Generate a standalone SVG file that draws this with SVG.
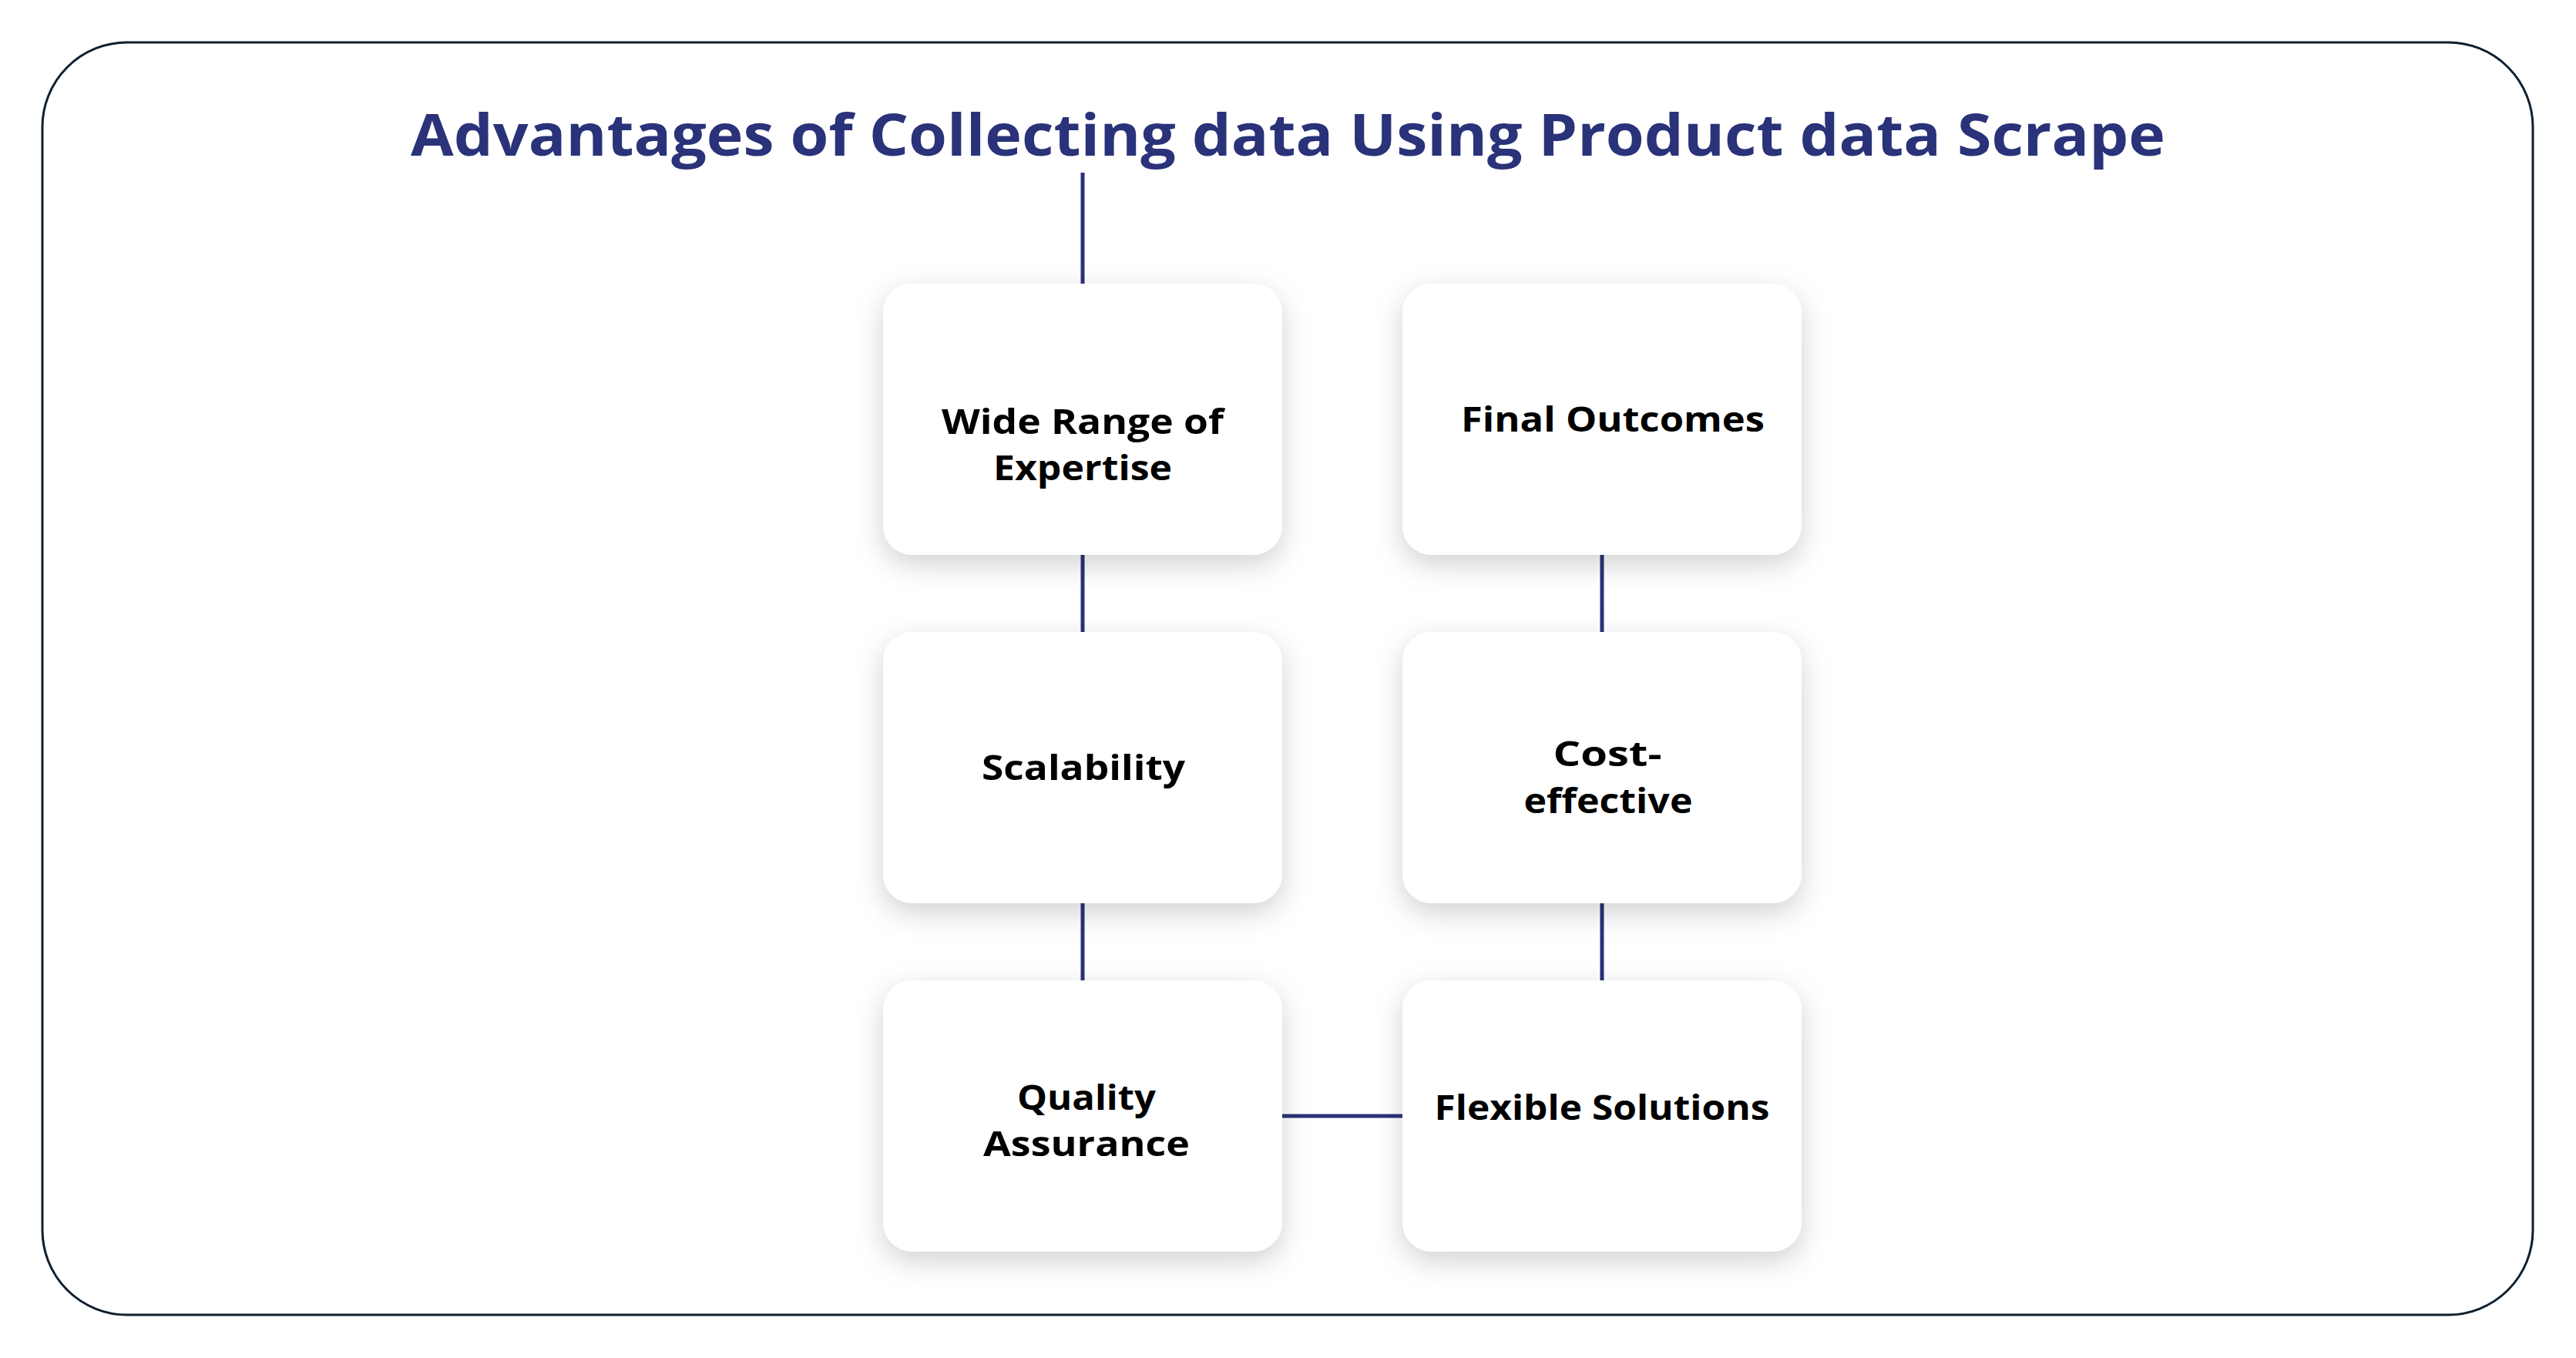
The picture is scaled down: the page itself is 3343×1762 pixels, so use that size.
<svg xmlns="http://www.w3.org/2000/svg" width="3343" height="1762" viewBox="0 0 3343 1762">
<style>
.frame{fill:#ffffff;stroke:#0f1f2e;stroke-width:3}
.title{font-family:"Open Sans","Noto Sans",sans-serif;font-weight:700;font-size:76px;fill:#2a3279}
.box{fill:#ffffff}
.lbl{font-family:"Open Sans","Noto Sans",sans-serif;font-weight:700;font-size:45px;fill:#000000;text-anchor:middle}
.conn{stroke:#2a3279;stroke-width:5;fill:none}
</style>
<defs>
<filter id="sh" x="-20%" y="-20%" width="140%" height="150%">
<feDropShadow dx="0" dy="12" stdDeviation="18" flood-color="#000" flood-opacity="0.18"/>
</filter>
</defs>
<rect width="3343" height="1762" fill="#ffffff"/>
<rect class="frame" x="55" y="55" width="3232" height="1651" rx="110" ry="110"/>
<text id="title" class="title" x="533" y="202" textLength="2277" lengthAdjust="spacingAndGlyphs">Advantages of Collecting data Using Product data Scrape</text>
<g id="connectors">
<line class="conn" x1="1405" y1="224" x2="1405" y2="368"/>
<line class="conn" x1="1405" y1="720" x2="1405" y2="820"/>
<line class="conn" x1="1405" y1="1172" x2="1405" y2="1272"/>
<line class="conn" x1="1664" y1="1448" x2="1820" y2="1448"/>
<line class="conn" x1="2079" y1="1172" x2="2079" y2="1272"/>
<line class="conn" x1="2079" y1="720" x2="2079" y2="820"/>
</g>
<g id="node-wide-range">
<rect class="box" x="1146" y="368" width="518" height="352" rx="38" filter="url(#sh)"/>
<text class="lbl" x="1405" y="563" textLength="366" lengthAdjust="spacingAndGlyphs">Wide Range of</text>
<text class="lbl" x="1405" y="623" textLength="232" lengthAdjust="spacingAndGlyphs">Expertise</text>
</g>
<g id="node-final-outcomes">
<rect class="box" x="1820" y="368" width="518" height="352" rx="38" filter="url(#sh)"/>
<text class="lbl" x="2093" y="560" textLength="394" lengthAdjust="spacingAndGlyphs">Final Outcomes</text>
</g>
<g id="node-scalability">
<rect class="box" x="1146" y="820" width="518" height="352" rx="38" filter="url(#sh)"/>
<text class="lbl" x="1406" y="1012" textLength="264" lengthAdjust="spacingAndGlyphs">Scalability</text>
</g>
<g id="node-cost-effective">
<rect class="box" x="1820" y="820" width="518" height="352" rx="38" filter="url(#sh)"/>
<text class="lbl" x="2086" y="994" textLength="141" lengthAdjust="spacingAndGlyphs">Cost-</text>
<text class="lbl" x="2087" y="1055" textLength="219" lengthAdjust="spacingAndGlyphs">effective</text>
</g>
<g id="node-quality-assurance">
<rect class="box" x="1146" y="1272" width="518" height="352" rx="38" filter="url(#sh)"/>
<text class="lbl" x="1410" y="1440" textLength="180" lengthAdjust="spacingAndGlyphs">Quality</text>
<text class="lbl" x="1410" y="1500" textLength="268" lengthAdjust="spacingAndGlyphs">Assurance</text>
</g>
<g id="node-flexible-solutions">
<rect class="box" x="1820" y="1272" width="518" height="352" rx="38" filter="url(#sh)"/>
<text class="lbl" x="2079" y="1453" textLength="435" lengthAdjust="spacingAndGlyphs">Flexible Solutions</text>
</g>
</svg>
